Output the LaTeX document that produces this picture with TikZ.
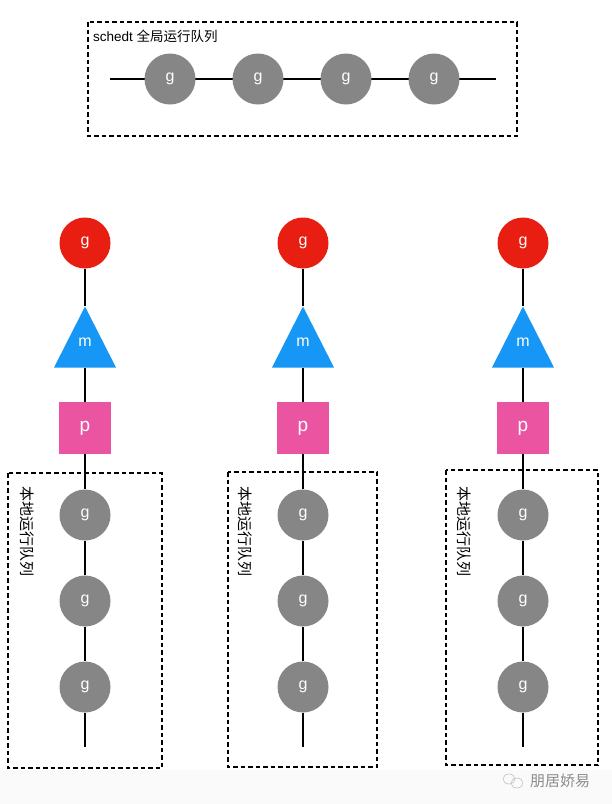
\documentclass[tikz,border=0pt]{standalone}
\usepackage{fontspec}
\setmainfont{Liberation Sans}
\newfontfamily\cjk{Noto Sans CJK SC}
\usetikzlibrary{shapes.geometric}
\definecolor{ggray}{RGB}{134,134,134}
\definecolor{gred}{RGB}{232,30,18}
\definecolor{mblue}{RGB}{22,150,245}
\definecolor{ppink}{RGB}{234,84,160}
\tikzset{
  gnode/.style={circle,fill=ggray,minimum size=51pt,inner sep=0pt,text=white,font=\fontsize{16}{16}\selectfont},
  rnode/.style={circle,fill=gred,minimum size=51pt,inner sep=0pt,text=white,font=\fontsize{16}{16}\selectfont},
  mnode/.style={isosceles triangle,isosceles triangle stretches,shape border rotate=90,fill=mblue,minimum height=61pt,minimum width=62pt,inner sep=0pt},
  pnode/.style={rectangle,fill=ppink,minimum size=52pt,inner sep=0pt,text=white,font=\fontsize{19}{19}\selectfont},
  qbox/.style={draw,line width=1.8pt,dash pattern=on 4.5pt off 3pt},
  link/.style={line width=1.8pt},
  vlabel/.style={rotate=-90,anchor=north west,font=\cjk\fontsize{15}{15}\selectfont,inner sep=0pt}
}
\begin{document}
\begin{tikzpicture}[x=1pt,y=-1pt]
\useasboundingbox (0,0) rectangle (612,804);
\fill[white] (0,0) rectangle (612,804);
\fill[black!2] (0,770) rectangle (612,804);
% global queue
\draw[qbox] (88,22) rectangle (517,136);
\node[anchor=west,inner sep=0pt,font=\fontsize{13.5}{13.5}\selectfont] (title) at (93,36) {schedt {\cjk 全局运行队列}};
\coordinate (gl) at (110,79);
\coordinate (gr) at (496,79);
\draw[link] (gl) -- (gr);
\node[gnode] (G1) at (170,79) {g};
\node[gnode] (G2) at (258,79) {g};
\node[gnode] (G3) at (346,79) {g};
\node[gnode] (G4) at (434,79) {g};
% columns
\foreach \i/\x/\bl/\br/\bt/\bb/\tx in {1/85/8/162/473/768/19, 2/303/228/377/472/767/237, 3/523/446/598/470/765/456}{
  \draw[qbox] (\bl,\bt) rectangle (\br,\bb);
  \node[vlabel] (lab\i) at (\tx+15,486) {本地运行队列};
  \coordinate (end\i) at (\x,747);
  \node[rnode] (R\i) at (\x,243) {g};
  \node[mnode,anchor=apex] (M\i) at (\x,306) {};
  \node[text=white,font=\fontsize{16}{16}\selectfont] (Mt\i) at (\x,342) {m};
  \node[pnode] (P\i) at (\x,428) {p};
  \node[gnode] (L\i a) at (\x,515) {g};
  \node[gnode] (L\i b) at (\x,601) {g};
  \node[gnode] (L\i c) at (\x,687) {g};
}
\foreach \i in {1,2,3}{
  \draw[link] (R\i.south) -- (M\i.apex);
  \draw[link] (M\i.south) -- (P\i.north);
  \draw[link] (P\i.south) -- (L\i a.north);
  \draw[link] (L\i a.south) -- (L\i b.north);
  \draw[link] (L\i b.south) -- (L\i c.north);
  \draw[link] (L\i c.south) -- (end\i);
}
% watermark
\draw[black!25,line width=0.6pt] (509,779) ellipse (6pt and 5pt);
\draw[black!25,line width=0.6pt] (517,783) ellipse (6pt and 5pt);
\node[anchor=west,inner sep=0pt,text=black!45,font=\cjk\fontsize{15}{15}\selectfont] (wm) at (530,781) {朋居娇易};
\end{tikzpicture}
\end{document}
